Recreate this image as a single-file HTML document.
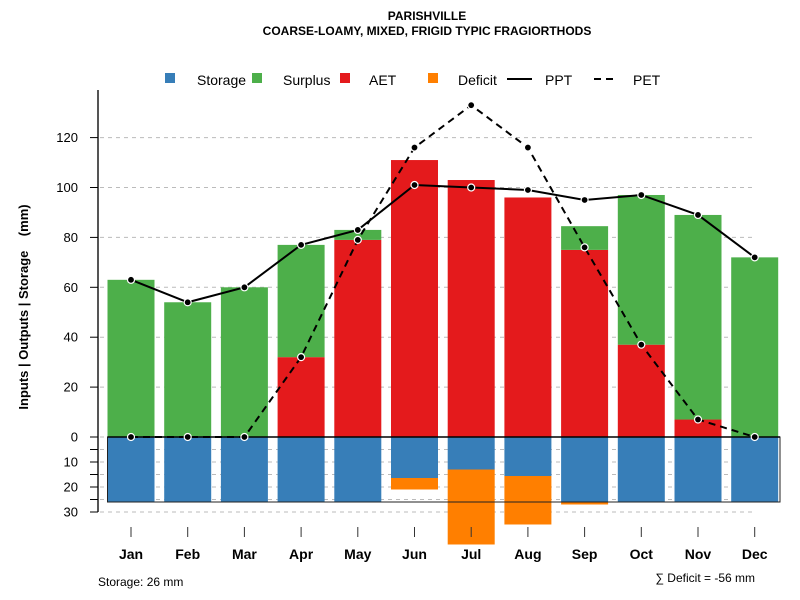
<!DOCTYPE html>
<html><head><meta charset="utf-8"><style>
body{margin:0;background:#fff}
svg{font-family:"Liberation Sans",sans-serif;display:block}
</style></head><body>
<svg id="chart" width="800" height="600">
<g id="grid"></g><g id="bars"></g><g id="axes"></g><g id="lines"></g>
<g>
<text x="427" y="20" text-anchor="middle" font-size="12" font-weight="bold">PARISHVILLE</text>
<text x="427" y="35" text-anchor="middle" font-size="12" font-weight="bold">COARSE-LOAMY, MIXED, FRIGID TYPIC FRAGIORTHODS</text>
</g>
<g font-size="14">
<rect x="165" y="73" width="10" height="10" fill="#377eb8"/>
<text x="197" y="85">Storage</text>
<rect x="252" y="73" width="10" height="10" fill="#4daf4a"/>
<text x="283" y="85">Surplus</text>
<rect x="340" y="73" width="10" height="10" fill="#e41a1c"/>
<text x="369" y="85">AET</text>
<rect x="428" y="73" width="10" height="10" fill="#ff7f00"/>
<text x="458" y="85">Deficit</text>
<line x1="507" y1="79" x2="532" y2="79" stroke="#000" stroke-width="2"/>
<text x="545" y="85">PPT</text>
<line x1="594" y1="79" x2="618" y2="79" stroke="#000" stroke-width="2" stroke-dasharray="7,5"/>
<text x="633" y="85">PET</text>
</g>
<text transform="translate(28,307) rotate(-90)" text-anchor="middle" font-size="13" font-weight="bold">Inputs | Outputs | Storage&#160;&#160;&#160;&#160;(mm)</text>
<text x="98" y="586" font-size="12">Storage: 26 mm</text>
<text x="755" y="582" text-anchor="end" font-size="12">∑ Deficit = -56 mm</text>
</svg>
<script>
const months=["Jan","Feb","Mar","Apr","May","Jun","Jul","Aug","Sep","Oct","Nov","Dec"];
const aet=[0,0,0,32,79,111,103,96,75,37,7,0];
const surplus=[63,54,60,45,4,0,0,0,9.5,60,82,72];
const storage=[26,26,26,26,26,16.4,13,15.6,26,26,26,26];
const deficit=[0,0,0,0,0,4.6,30,19.4,1,0,0,0];
const ppt=[63,54,60,77,83,101,100,99,95,97,89,72];
const pet=[0,0,0,32,79,116,133,116,76,37,7,0];
const upTicks=[0,20,40,60,80,100,120];
const downTicks=[10,20,30];
const storageCap=26;
const NS="http://www.w3.org/2000/svg";
const y0=437, k=2.495;
function yU(v){return y0-v*k;}
function yD(v){return y0+v*2.5;}
function xC(i){return 131+i*56.7;}
const bw=47;
function mk(p,tag,attrs){const e=document.createElementNS(NS,tag);for(const a in attrs)e.setAttribute(a,attrs[a]);p.appendChild(e);return e;}
const grid=document.getElementById('grid'),bars=document.getElementById('bars'),axes=document.getElementById('axes'),lines=document.getElementById('lines');
upTicks.forEach(t=>{const l=mk(grid,'line',{x1:100,x2:755,y1:yU(t),y2:yU(t),stroke:'#bbb','stroke-dasharray':'4,4'});

});
[5,10,15,20,25,30].forEach(t=>{const l=mk(grid,'line',{x1:100,x2:755,y1:yD(t),y2:yD(t),stroke:'#bbb','stroke-dasharray':'4,4'});

});
months.forEach((m,i)=>{const x=xC(i)-bw/2;
let r=mk(bars,'rect',{x:x,y:yU(aet[i]),width:bw,height:aet[i]*k,fill:'#e41a1c'});


r=mk(bars,'rect',{x:x,y:yU(aet[i]+surplus[i]),width:bw,height:surplus[i]*k,fill:'#4daf4a'});


r=mk(bars,'rect',{x:x,y:yD(storage[i]),width:bw,height:deficit[i]*2.5,fill:'#ff7f00'});


r=mk(bars,'rect',{x:x,y:y0,width:bw,height:storage[i]*2.5,fill:'#377eb8'});


});
let box=mk(bars,'rect',{x:xC(0)-bw/2,y:y0,width:780-(xC(0)-bw/2),height:storageCap*2.5,fill:'none',stroke:'#222','stroke-width':1});


let ax=mk(axes,'line',{x1:98,x2:98,y1:90,y2:512,stroke:'#555','stroke-width':2});


upTicks.forEach(t=>{mk(axes,'line',{x1:90,x2:98,y1:yU(t),y2:yU(t),stroke:'#000'});
const tx=mk(axes,'text',{x:78,y:yU(t)+4.5,'text-anchor':'end','font-size':13});tx.textContent=t;

});
[5,15,25].forEach(t=>mk(axes,'line',{x1:90,x2:98,y1:yD(t),y2:yD(t),stroke:'#000'}));
downTicks.forEach(t=>{mk(axes,'line',{x1:90,x2:98,y1:yD(t),y2:yD(t),stroke:'#000'});
const tx=mk(axes,'text',{x:78,y:yD(t)+4.5,'text-anchor':'end','font-size':13});tx.textContent=t;

});
months.forEach((m,i)=>{mk(axes,'line',{x1:xC(i),x2:xC(i),y1:527,y2:537,stroke:'#333'});
const tx=mk(axes,'text',{x:xC(i),y:559,'text-anchor':'middle','font-size':14,'font-weight':'bold'});tx.textContent=m;

});
let zl=mk(lines,'line',{x1:xC(0)-bw/2,x2:780,y1:y0,y2:y0,stroke:'#000','stroke-width':1.5});


function series(arr,name,dash){const p=mk(lines,'polyline',{points:arr.map((v,i)=>xC(i)+','+yU(v)).join(' '),fill:'none',stroke:'#000','stroke-width':2});
if(dash)p.setAttribute('stroke-dasharray','7,5');


arr.forEach((v,i)=>{const c=mk(lines,'circle',{cx:xC(i),cy:yU(v),r:3.5,fill:'#000',stroke:'#fff','stroke-width':1.2});

});}
series(pet,'pet',true);
series(ppt,'ppt',false);
</script>
</body></html>
